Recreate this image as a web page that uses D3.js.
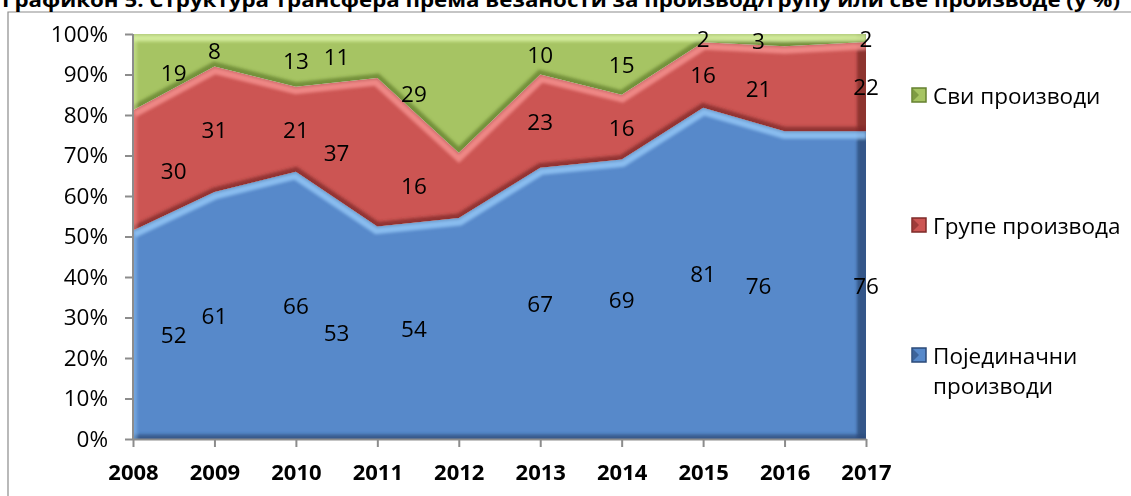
<!DOCTYPE html>
<html>
<head>
<meta charset="utf-8">
<script src="https://cdn.jsdelivr.net/npm/d3@7"></script>
<style>
  body { margin: 0; background: #fff; }
  svg { display: block; font-family: "Open Sans", "Noto Sans", sans-serif; }
</style>
</head>
<body>
<svg id="chart" width="1131" height="496"></svg>
<script>
// chart values
const years = ["2008", "2009", "2010", "2011", "2012", "2013", "2014", "2015", "2016", "2017"];
const individual = [52, 61, 66, 53, 54, 67, 69, 81, 76, 76];
const productGroups = [30, 31, 21, 37, 16, 23, 16, 16, 21, 22];
const allProducts = [19, 8, 13, 11, 29, 10, 15, 2, 3, 2];
const seriesKeys = ["individual", "groups", "all"];
const seriesNames = ["Појединачни производи", "Групе производа", "Сви производи"];
const yTicks = [0, 0.1, 0.2, 0.3, 0.4, 0.5, 0.6, 0.7, 0.8, 0.9, 1];
const titleText = "Графикон 5: Структура трансфера према везаности за производ/групу или све производе (у %)";

// layout: excel shifts some value labels sideways (in category steps)
const labelNudge = [0.5, 0, 0, -0.5, -0.55, 0, 0, 0, -0.32, 0];

const colors = {
	individual: { fill: "#5789ca", light: "#93c6f6", dark: "#2b4a78" },
	groups: { fill: "#cc5553", light: "#f4918e", dark: "#7d2a28" },
	all: { fill: "#a6c463", light: "#d8f0a2", dark: "#64802f" }
};

const svg = d3.select("#chart");
const plotLeft = 133, plotRight = 866, plotTop = 34, plotBottom = 439;

// data table for the stack
const table = years.map(function(yr, i) {
	return { year: yr, individual: individual[i], groups: productGroups[i], all: allProducts[i] };
});

const x = d3.scalePoint().domain(years).range([plotLeft, plotRight]);
const y = d3.scaleLinear().domain([0, 1]).range([plotBottom, plotTop]);

const stacked = d3.stack().keys(seriesKeys).offset(d3.stackOffsetExpand)(table);

const defs = svg.append("defs");
defs.append("filter").attr("id", "soft")
	.attr("x", "-10%").attr("y", "-10%").attr("width", "120%").attr("height", "120%")
	.append("feGaussianBlur").attr("stdDeviation", 1.5);

// chart frame + title (title is cut off at the top like the source)
svg.append("path")
	.attr("d", "M8,496 L8,12 L1131,12")
	.attr("fill", "none").attr("stroke", "#8c8c8c").attr("stroke-width", 1.2);

svg.append("text")
	.attr("x", 2).attr("y", 7)
	.attr("font-weight", "bold").attr("font-size", 20)
	.attr("textLength", 1118).attr("lengthAdjust", "spacingAndGlyphs")
	.text(titleText);

const area = d3.area()
	.x(function(d) { return x(d.data.year); })
	.y0(function(d) { return y(d[0]); })
	.y1(function(d) { return y(d[1]); });
const topLine = d3.line()
	.x(function(d) { return x(d.data.year); })
	.y(function(d) { return y(d[1]); });
const bottomLine = d3.line()
	.x(function(d) { return x(d.data.year); })
	.y(function(d) { return y(d[0]); });

// areas with a bevel look
stacked.forEach(function(s, i) {
	const c = colors[s.key];
	defs.append("clipPath").attr("id", "clip-" + i)
		.append("path").attr("d", area(s));

	const g = svg.append("g").attr("clip-path", "url(#clip-" + i + ")");
	g.append("path").attr("d", area(s)).attr("fill", c.fill);

	const fx = g.append("g").attr("filter", "url(#soft)");
	// dark bottom edge
	fx.append("path").attr("d", bottomLine(s))
		.attr("fill", "none").attr("stroke", c.dark).attr("stroke-width", 9).attr("opacity", 0.75);
	// dark right edge
	fx.append("line").attr("x1", plotRight).attr("x2", plotRight).attr("y1", plotTop - 5).attr("y2", plotBottom + 5)
		.attr("stroke", c.dark).attr("stroke-width", 18).attr("opacity", 0.8);
	// light left edge
	fx.append("line").attr("x1", plotLeft).attr("x2", plotLeft).attr("y1", plotTop - 5).attr("y2", plotBottom + 5)
		.attr("stroke", c.light).attr("stroke-width", 8).attr("opacity", 0.45);
	// light top edge
	fx.append("path").attr("d", topLine(s))
		.attr("fill", "none").attr("stroke", c.light).attr("stroke-width", 15).attr("opacity", 0.85);
	fx.append("path").attr("d", topLine(s))
		.attr("fill", "none").attr("stroke", c.dark).attr("stroke-width", 2).attr("opacity", 0.5);
});

// axes
const yAxis = svg.append("g")
	.attr("transform", "translate(" + plotLeft + ",0)")
	.call(d3.axisLeft(y).tickValues(yTicks).tickFormat(d3.format(".0%")).tickSize(8).tickPadding(17));
const xAxis = svg.append("g")
	.attr("transform", "translate(0," + plotBottom + ")")
	.call(d3.axisBottom(x).tickSize(8).tickPadding(17).tickSizeOuter(0));

[yAxis, xAxis].forEach(function(ax) {
	ax.select(".domain").attr("stroke", "#8c8c8c").attr("stroke-width", 2);
	ax.selectAll(".tick line").attr("stroke", "#8c8c8c").attr("stroke-width", 2);
	ax.selectAll("text").attr("fill", "#000").attr("font-family", "Open Sans, sans-serif");
});
yAxis.select(".domain").attr("d", "M0," + plotTop + "V" + plotBottom);
yAxis.selectAll("text").attr("font-size", 22.5);
xAxis.selectAll("text").attr("font-size", 22).attr("font-weight", "bold");

// value labels
const step = x.step();
stacked.forEach(function(s, i) {
	const vals = [individual, productGroups, allProducts][i];
	svg.append("g").selectAll("text")
		.data(s)
		.join("text")
		.attr("x", function(d, j) { return x(d.data.year) + labelNudge[j] * step; })
		.attr("y", function(d) { return y((d[0] + d[1]) / 2); })
		.attr("text-anchor", "middle")
		.attr("dominant-baseline", "central")
		.attr("font-size", 22.5)
		.attr("fill", "#000")
		.text(function(d, j) { return vals[j]; });
});

// legend (top to bottom: all, groups, individual)
const legendItems = [
	{ key: "all", lines: ["Сви производи"], cy: 95 },
	{ key: "groups", lines: ["Групе производа"], cy: 225 },
	{ key: "individual", lines: ["Појединачни", "производи"], cy: 355 }
];
const lg = svg.append("g");
legendItems.forEach(function(it) {
	const c = colors[it.key];
	lg.append("rect")
		.attr("x", 912).attr("y", it.cy - 7).attr("width", 14).attr("height", 14)
		.attr("fill", c.fill).attr("stroke", c.dark).attr("stroke-width", 1.5);
	lg.append("path")
		.attr("d", "M913," + (it.cy - 6) + "L919," + it.cy + "L913," + (it.cy + 6) + "Z")
		.attr("fill", c.dark).attr("opacity", 0.6);
	it.lines.forEach(function(t, k) {
		lg.append("text")
			.attr("x", 933).attr("y", it.cy + k * 30)
			.attr("dominant-baseline", "central")
			.attr("font-size", 22.5)
			.attr("fill", "#000")
			.text(t);
	});
});
</script>
</body>
</html>
